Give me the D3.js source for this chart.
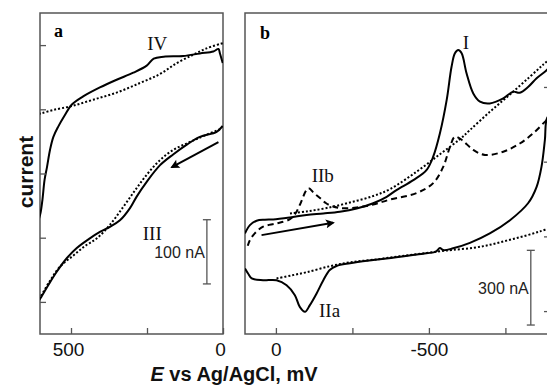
<!DOCTYPE html>
<html><head><meta charset="utf-8">
<script src="https://cdn.jsdelivr.net/npm/d3@7"></script>
<style>
html,body{margin:0;padding:0;background:#fff;}
svg{display:block;}
</style></head>
<body>
<svg id="chart" width="547" height="385"></svg>
<script>
// ---------- DATA (E in mV vs Ag/AgCl, current in nA) ----------
// panel a
const aSolidUpper = [[605,130],[600,139],[594,159],[587,190],[579,210],[569,237],[558,257],[542,273],[520,291],[498,307],[460,320],[405,334],[350,346],[295,357],[251,368],[228,379],[195,382],[131,383],[76,387],[32,390],[15,394],[10,387],[1,372]];
const aSolidLower = [[1,274],[21,265],[76,257],[119,245],[163,230],[207,213],[251,187],[284,164],[306,146],[339,127],[372,117],[405,109],[438,99],[481,84],[514,68],[547,47],[575,26],[600,6],[606,2]];
const aDotUpper = [[606,293],[596,294],[558,299],[498,305],[427,315],[350,326],[273,341],[207,355],[152,372],[98,385],[54,395],[1,403]];
const aDotLower = [[10,269],[81,255],[119,247],[163,237],[207,221],[251,198],[289,174],[328,148],[372,120],[415,99],[454,87],[493,72],[536,55],[569,33],[600,8],[606,3]];
const aArrow = [[15,249],[168,210]];
const aScaleBar = {E:53, from:28, to:128, label:"100 nA"};
const aTicksX = [500,250,0];
const aTickLabels = {500:"500",0:"0"};
const aTicksY = [0,100,200,300,400];

// panel b
const bSolid = [[101,312],[85,345],[63,363],[36,367],[9,368],[-46,376],[-100,386],[-155,392],[-209,399],[-264,412],[-318,433],[-362,459],[-394,486],[-449,526],[-492,566],[-514,620],[-536,714],[-558,847],[-574,981],[-585,1035],[-596,1048],[-607,1035],[-623,955],[-645,874],[-667,841],[-699,834],[-743,854],[-775,881],[-797,877],[-825,901],[-852,935],[-879,961],
  [-905,985],[-925,900],[-905,800],
  [-886,775],[-879,687],[-868,580],[-852,499],[-824,433],[-765,365],[-699,312],[-634,274],[-579,252],[-547,245],[-536,253],[-523,239],[-492,232],[-405,218],[-318,205],[-242,192],[-198,181],[-176,165],[-155,124],[-133,71],[-111,24],[-95,-3],[-78,17],[-62,64],[-35,104],[-2,124],[42,124],[79,131],[91,151],[101,171]];
const bDotUpper = [[-46,392],[-100,400],[-166,414],[-242,436],[-318,462],[-373,490],[-460,560],[-536,630],[-601,690],[-634,727],[-699,800],[-765,870],[-830,941],[-874,990],[-905,1022]];
const bDotLower = [[-2,131],[-50,143],[-100,156],[-176,180],[-242,196],[-318,206],[-405,220],[-492,233],[-536,240],[-579,246],[-645,254],[-699,266],[-754,283],[-808,300],[-863,320],[-905,337]];
const bDash = [[92,262],[85,285],[69,312],[42,339],[-2,352],[-46,369],[-65,394],[-78,426],[-106,493],[-124,474],[-144,454],[-163,434],[-182,422],[-209,414],[-264,416],[-318,428],[-373,448],[-460,474],[-514,514],[-547,580],[-569,660],[-585,700],[-608,687],[-645,647],[-683,627],[-743,640],[-797,673],[-841,714],[-885,767],[-910,790]];
const bArrow = [[47,305],[-187,355]];
const bScaleBar = {E:-833, from:-56, to:244, label:"300 nA"};
const bTicksX = [0,-250,-500,-750];
const bTickLabels = {0:"0","-500":"-500"};
const bTicksY = [0,300,600,900];

// labels
const aPeakLabels = [{t:"IV",E:249,I:393},{t:"III",E:264,I:96}];
const bPeakLabels = [{t:"I",E:-611,I:1054},{t:"IIb",E:-117,I:520},{t:"IIa",E:-141,I:-23}];
const panelLetters = ["a","b"];
const xTitle = ["E"," vs Ag/AgCl, mV"];
const yTitle = "current";

// ---------- LAYOUT ----------
const svg = d3.select("#chart");
const yTop = 13, yBot = 334;
const xa = d3.scaleLinear().domain([602,0]).range([40,223]);
const ya = d3.scaleLinear().domain([-50,450]).range([yBot,yTop]);
const xb = d3.scaleLinear().domain([101,-899]).range([245,551]);
const yb = d3.scaleLinear().domain([-92,1197]).range([yBot,yTop]);

const defs = svg.append("defs");
defs.append("clipPath").attr("id","clipA").append("rect").attr("x",40).attr("y",yTop).attr("width",183).attr("height",yBot-yTop);
defs.append("clipPath").attr("id","clipB").append("rect").attr("x",245).attr("y",yTop).attr("width",306).attr("height",yBot-yTop);
defs.append("marker").attr("id","ah").attr("viewBox","0 0 10 10").attr("refX",8).attr("refY",5)
  .attr("markerWidth",7).attr("markerHeight",4.5).attr("markerUnits","strokeWidth").attr("orient","auto")
  .append("path").attr("d","M0,0 L10,5 L0,10 L2,5 Z").attr("fill","#000");

const frameColor = "#555";
function frame(x0,x1){
  svg.append("rect").attr("x",x0).attr("y",yTop).attr("width",x1-x0).attr("height",yBot-yTop)
    .attr("fill","none").attr("stroke",frameColor).attr("stroke-width",1.5);
}
frame(40,223); frame(245,551);

function drawPanel(clipId,xs,ys,series){
  const g = svg.append("g").attr("clip-path",`url(#${clipId})`);
  const line = d3.line().x(d=>xs(d[0])).y(d=>ys(d[1])).curve(d3.curveCatmullRom.alpha(0.5));
  series.forEach(s=>{
    g.append("path").attr("d",line(s.data)).attr("fill","none").attr("stroke","#000")
      .attr("stroke-width",s.w).attr("stroke-dasharray",s.dash||null).attr("stroke-linejoin","round");
  });
  return g;
}
drawPanel("clipA",xa,ya,[
  {data:aDotUpper,w:2,dash:"2,2"},
  {data:aDotLower,w:2,dash:"2,2"},
  {data:aSolidUpper,w:2},
  {data:aSolidLower,w:2}
]);
drawPanel("clipB",xb,yb,[
  {data:bDotUpper,w:2,dash:"2,2"},
  {data:bDotLower,w:2,dash:"2,2"},
  {data:bDash,w:2,dash:"6,4"},
  {data:bSolid,w:2}
]);

// arrows
function arrow(xs,ys,a){
  svg.append("line").attr("x1",xs(a[0][0])).attr("y1",ys(a[0][1])).attr("x2",xs(a[1][0])).attr("y2",ys(a[1][1]))
    .attr("stroke","#000").attr("stroke-width",2).attr("marker-end","url(#ah)");
}
arrow(xa,ya,aArrow); arrow(xb,yb,bArrow);

// axes
const tickFont = "'Liberation Sans', Arial, sans-serif";
function styleAxis(g){
  g.select(".domain").remove();
  g.selectAll(".tick line").attr("stroke",frameColor).attr("stroke-width",1.3);
  g.selectAll("text").attr("font-family",tickFont).attr("font-size",19).attr("fill","#111");
}
svg.append("g").attr("transform",`translate(0,${yBot})`)
  .call(d3.axisBottom(xa).tickValues(aTicksX).tickSize(-6).tickPadding(9).tickFormat(d=>aTickLabels[d]||""))
  .call(styleAxis).selectAll("text").attr("dx",-3);
svg.append("g").attr("transform",`translate(0,${yBot})`)
  .call(d3.axisBottom(xb).tickValues(bTicksX).tickSize(-6).tickPadding(9).tickFormat(d=>bTickLabels[d]||""))
  .call(styleAxis);
svg.append("g").attr("transform",`translate(40,0)`)
  .call(d3.axisLeft(ya).tickValues(aTicksY).tickSize(-6).tickFormat(""))
  .call(styleAxis);
svg.append("g").attr("transform",`translate(551,0)`)
  .call(d3.axisRight(yb).tickValues(bTicksY).tickSize(-7).tickFormat(""))
  .call(styleAxis);

// scale bars
function scaleBar(xs,ys,sb){
  const x = xs(sb.E), y1 = ys(sb.from), y2 = ys(sb.to);
  const g = svg.append("g").attr("stroke","#555").attr("stroke-width",1.3);
  g.append("line").attr("x1",x).attr("x2",x).attr("y1",y1).attr("y2",y2);
  g.append("line").attr("x1",x-4).attr("x2",x+4).attr("y1",y1).attr("y2",y1);
  g.append("line").attr("x1",x-4).attr("x2",x+4).attr("y1",y2).attr("y2",y2);
  svg.append("text").attr("x",x-2).attr("y",(y1+y2)/2+6).attr("text-anchor","end")
    .attr("font-family",tickFont).attr("font-size",16).attr("fill","#222").text(sb.label);
}
scaleBar(xa,ya,aScaleBar); scaleBar(xb,yb,bScaleBar);

// peak labels
const serif = "'Liberation Serif','Times New Roman',serif";
function peakLabels(xs,ys,arr){
  arr.forEach(l=>{
    svg.append("text").attr("x",xs(l.E)).attr("y",ys(l.I)).attr("font-family",serif)
      .attr("font-size",19).attr("fill","#111").text(l.t);
  });
}
peakLabels(xa,ya,aPeakLabels); peakLabels(xb,yb,bPeakLabels);

// panel letters
svg.append("text").attr("x",54).attr("y",36.5).attr("font-family",serif).attr("font-weight","bold").attr("font-size",18).text(panelLetters[0]);
svg.append("text").attr("x",260).attr("y",38.5).attr("font-family",serif).attr("font-weight","bold").attr("font-size",18).text(panelLetters[1]);

// axis titles
const xt = svg.append("text").attr("x",234).attr("y",381).attr("text-anchor","middle")
  .attr("font-family",tickFont).attr("font-weight","bold").attr("font-size",20).attr("fill","#111");
xt.append("tspan").attr("font-style","italic").text(xTitle[0]);
xt.append("tspan").text(xTitle[1]);
svg.append("text").attr("transform","translate(33,172) rotate(-90)").attr("text-anchor","middle")
  .attr("font-family",tickFont).attr("font-weight","bold").attr("font-size",21).attr("fill","#111").text(yTitle);
</script>
</body></html>
